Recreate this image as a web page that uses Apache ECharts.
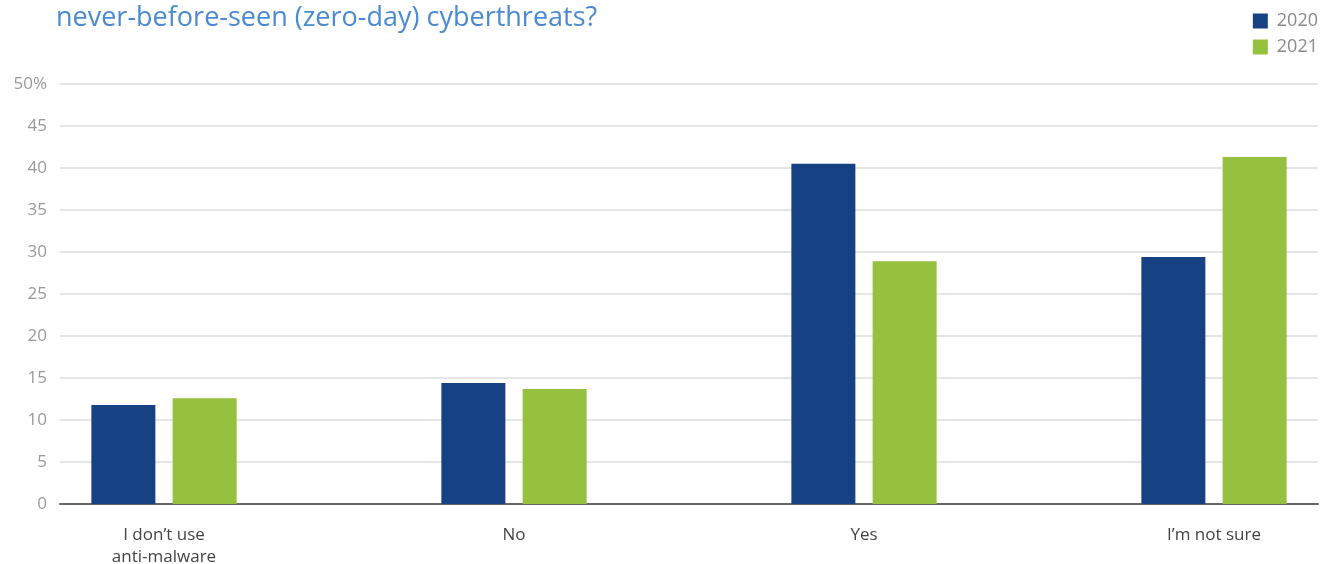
<!DOCTYPE html>
<html><head><meta charset="utf-8">
<script src="https://cdn.jsdelivr.net/npm/echarts@6/dist/echarts.min.js"></script>
<style>html,body{margin:0;padding:0;background:#fff}#c{width:1328px;height:564px}</style>
</head><body><div id="c"></div>
<script>
const titleText = 'never-before-seen (zero-day) cyberthreats?';
const categories = ['I don\u2019t use\nanti-malware', 'No', 'Yes', 'I\u2019m not sure'];
const seriesNames = ['2020', '2021'];
const values2020 = [11.8, 14.4, 40.5, 29.4];
const values2021 = [12.6, 13.7, 28.9, 41.3];
const yTicks = [0, 5, 10, 15, 20, 25, 30, 35, 40, 45, 50];

const chart = echarts.init(document.getElementById('c'), null, {renderer: 'canvas'});
const fontFam = '"Open Sans", Lato, sans-serif';
chart.setOption({
  animation: false,
  title: {text: titleText, left: 51, top: 0,
    textStyle: {color: '#4a8ad0', fontSize: 27, fontWeight: 'normal', fontFamily: fontFam}},
  legend: {orient: 'vertical', right: 5, top: 7, itemWidth: 15, itemHeight: 15, itemGap: 8,
    data: seriesNames, icon: 'rect',
    textStyle: {color: '#8a8a8a', fontSize: 18, fontFamily: fontFam, padding: [0, 0, 0, 4]}},
  grid: [
    {left: 60, right: 10, top: 84, bottom: 60, containLabel: false, outerBoundsMode: 'none'},
    {left: -11, width: 1400, top: 84, bottom: 60, containLabel: false, outerBoundsMode: 'none'}
  ],
  xAxis: [
    {gridIndex: 0, type: 'value', min: 0, max: 1, show: true,
      axisLine: {show: true, onZero: false, lineStyle: {color: '#666', width: 2}},
      axisTick: {show: false}, axisLabel: {show: false}, splitLine: {show: false}},
    {gridIndex: 1, type: 'category', data: categories,
      axisLine: {show: false}, axisTick: {show: false},
      axisLabel: {color: '#444', fontSize: 17, fontFamily: fontFam, margin: 20, lineHeight: 22}}
  ],
  yAxis: [
    {gridIndex: 0, type: 'value', min: 0, max: 50, interval: 5,
      axisLine: {show: false}, axisTick: {show: false},
      axisLabel: {color: '#999', fontSize: 17, fontFamily: fontFam, margin: 13,
        formatter: v => (v === yTicks[yTicks.length - 1] ? v + '%' : String(v))},
      splitLine: {lineStyle: {color: '#dcdcdc', width: 1.5}}},
    {gridIndex: 1, type: 'value', min: 0, max: 50, interval: 5, show: false}
  ],
  series: [
    {name: seriesNames[0], type: 'bar', xAxisIndex: 1, yAxisIndex: 1, data: values2020,
      barWidth: 64, barGap: '27%', itemStyle: {color: '#164284'}},
    {name: seriesNames[1], type: 'bar', xAxisIndex: 1, yAxisIndex: 1, data: values2021,
      barWidth: 64, barGap: '27%', itemStyle: {color: '#95c13e'}}
  ]
});
</script></body></html>
